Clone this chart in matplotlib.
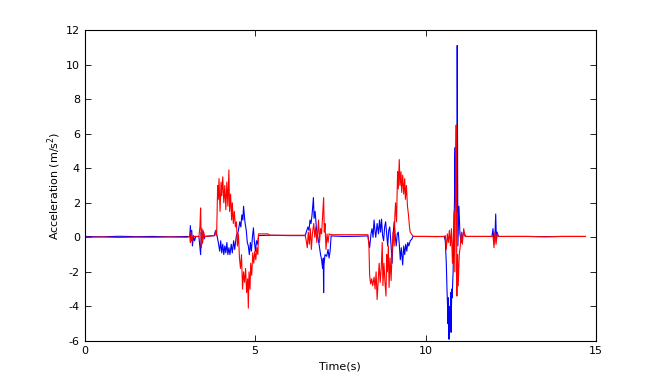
import numpy as np
import matplotlib.pyplot as plt

plt.rcParams["axes.unicode_minus"] = False
plt.rcParams["font.family"] = ["DejaVu Sans"]

# 蓝色曲线 (时间, 加速度)
t_blue = [0, 0.5, 1.0, 1.5, 2.0, 2.5, 3.0, 3.08, 3.10, 3.12, 3.14, 3.16, 3.19, 3.22, 3.26,
          3.35, 3.40, 3.42, 3.44, 3.47, 3.50, 3.53, 3.80, 3.84, 3.88, 3.92, 3.96, 3.99, 4.02,
          4.05, 4.08, 4.11, 4.14, 4.17, 4.20, 4.23, 4.26, 4.30, 4.33, 4.37, 4.40, 4.45, 4.50,
          4.55, 4.58, 4.61, 4.64, 4.66, 4.70, 4.74, 4.77, 4.80, 4.83, 4.86, 4.89, 4.92, 4.95,
          4.98, 5.01, 5.04, 5.07, 5.10, 5.40, 6.0, 6.47, 6.50, 6.55, 6.58, 6.61, 6.64, 6.67,
          6.71, 6.73, 6.76, 6.80, 6.83, 6.86, 6.89, 6.92, 6.95, 6.98, 7.00, 7.01, 7.02, 7.05,
          7.10, 7.14, 7.17, 7.20, 7.23, 7.6, 8.0, 8.31, 8.36, 8.40, 8.43, 8.46, 8.49, 8.52,
          8.54, 8.58, 8.62, 8.65, 8.68, 8.71, 8.74, 8.77, 8.80, 8.83, 8.86, 8.89, 8.92, 8.95,
          8.98, 9.02, 9.05, 9.08, 9.11, 9.14, 9.17, 9.20, 9.23, 9.26, 9.29, 9.33, 9.36, 9.39,
          9.42, 9.45, 9.48, 9.51, 9.55, 9.60, 9.63, 10.0, 10.3, 10.55, 10.58, 10.61, 10.63,
          10.65, 10.66, 10.67, 10.69, 10.70, 10.72, 10.74, 10.75, 10.77, 10.78, 10.81, 10.83,
          10.85, 10.86, 10.87, 10.88, 10.89, 10.90, 10.91, 10.92, 10.93, 10.95, 10.98, 11.01,
          11.05, 11.11, 11.18, 11.5, 11.95, 11.98, 12.01, 12.04, 12.06, 12.08, 12.10, 12.14,
          13.0, 13.5, 14.0, 14.69]
a_blue = [0.05, 0.03, 0.06, 0.04, 0.05, 0.03, 0.05, 0.04, 0.67, -0.2, 0.4, -0.5, 0.1, -0.2, 0.05,
          0.05, -1.0, 0.3, -0.4, 0.4, -0.1, 0.05, 0.1, 0.4, 0.1, -0.3, -0.8, -0.2, -0.9,
          -0.4, -1.0, -0.5, -0.9, -0.3, -1.0, -0.6, -1.0, -0.4, -0.9, -0.2, -0.7, 0.1, 0.3,
          0.9, 0.6, 1.3, 1.0, 1.8, 0.9, 0.4, -0.3, -0.5, -1.0, -0.3, -0.8, 0.0, 0.55,
          -0.3, -0.8, -0.2, -0.4, 0.1, 0.12, 0.1, 0.1, 0.3, 0.6, 0.4, 1.0, 0.8, 1.3,
          2.3, 1.1, 1.5, 0.5, 0.1, -0.2, -0.6, -1.0, -1.3, -1.8, -1.2, -3.2, -1.6, -1.0,
          -1.1, -0.7, -1.2, -0.8, 0.08, 0.05, 0.06, 0.08, -0.6, 0.2, 0.5, 0.0, 1.0, 0.3,
          0.0, 0.8, 0.2, 1.0, 0.3, 1.05, 0.1, -0.2, 0.6, 0.9, 0.2, -0.5, 0.4, 0.6,
          -0.2, -1.5, 0.2, 0.9, 0.1, -0.5, 0.2, 0.3, -0.4, -1.3, -0.6, -1.6, -0.5, -1.0,
          -0.4, -0.8, -0.3, -0.5, -0.2, -0.1, 0.05, 0.05, 0.04, 0.05, -0.2, -1.5, -3.0,
          -4.2, -5.0, -3.5, -5.9, -4.0, -5.3, -3.2, -5.5, -3.0, -3.5, -2.0, 0.5,
          2.0, 4.5, 5.2, 2.5, 5.0, 3.0, 4.0, 1.5, 11.1, -0.5, 1.8, 0.2,
          -0.3, 0.3, 0.05, 0.05, 0.05, 0.5, -0.3, 0.2, 1.35, -0.2, 0.3, 0.05,
          0.05, 0.04, 0.05, 0.05]

# 红色曲线 (时间, 加速度)
t_red = [0, 0.5, 1.0, 1.5, 2.0, 2.5, 3.0, 3.08, 3.10, 3.12, 3.15, 3.18, 3.35, 3.38, 3.40,
         3.42, 3.44, 3.46, 3.49, 3.52, 3.82, 3.84, 3.87, 3.90, 3.92, 3.94, 3.97, 4.00, 4.02,
         4.05, 4.08, 4.11, 4.14, 4.17, 4.20, 4.23, 4.25, 4.28, 4.31, 4.33, 4.36, 4.39, 4.42,
         4.45, 4.48, 4.51, 4.54, 4.57, 4.60, 4.63, 4.66, 4.69, 4.72, 4.75, 4.78, 4.80, 4.82,
         4.85, 4.87, 4.90, 4.93, 4.96, 4.99, 5.02, 5.05, 5.08, 5.10, 5.38, 5.42, 6.0, 6.47,
         6.50, 6.53, 6.56, 6.59, 6.62, 6.65, 6.68, 6.72, 6.75, 6.78, 6.81, 6.84, 6.86, 6.89,
         6.92, 6.95, 6.98, 7.01, 7.03, 7.05, 7.08, 7.11, 7.14, 7.17, 7.22, 8.0, 8.31, 8.34,
         8.36, 8.39, 8.42, 8.45, 8.49, 8.52, 8.55, 8.58, 8.61, 8.64, 8.67, 8.70, 8.73, 8.75,
         8.78, 8.81, 8.84, 8.86, 8.88, 8.91, 8.93, 8.96, 8.99, 9.02, 9.05, 9.08, 9.10, 9.12,
         9.15, 9.18, 9.20, 9.23, 9.25, 9.28, 9.30, 9.33, 9.36, 9.39, 9.41, 9.44, 9.47, 9.50,
         9.53, 9.55, 9.60, 9.65, 10.0, 10.55, 10.58, 10.61, 10.64, 10.67, 10.70, 10.73, 10.76,
         10.79, 10.82, 10.84, 10.86, 10.88, 10.90, 10.91, 10.92, 10.94, 10.96, 10.99, 11.02,
         11.05, 11.08, 11.12, 11.16, 11.5, 11.95, 11.98, 12.01, 12.04, 12.07, 12.10, 12.14,
         13.0, 13.5, 14.0, 14.69]
a_red = [0.0, 0.02, -0.01, 0.01, 0.0, 0.02, 0.0, 0.05, -0.3, 0.3, -0.2, 0.05, 0.05, 0.6, 1.7,
         -0.6, 0.5, -0.3, 0.3, 0.05, 0.1, 0.4, 0.1, 3.0, 2.2, 3.4, 1.5, 3.2, 2.4,
         3.5, 2.0, 3.0, 1.6, 3.2, 1.8, 3.9, 1.5, 2.5, 1.0, 2.0, 0.8, 1.5, 0.6,
         0.9, -0.5, 0.2, -1.2, -1.8, -1.0, -3.0, -2.0, -2.6, -1.8, -3.2, -2.4, -4.1, -2.0,
         -3.0, -1.5, -2.2, -0.9, -1.5, -0.8, -1.3, -0.6, -1.0, 0.2, 0.2, 0.12, 0.12, 0.12,
         -0.2, -0.6, 0.3, -0.4, 0.5, -0.7, 0.2, 0.8, 0.0, 0.6, -0.3, 0.4, 1.0, -0.3,
         0.5, 0.2, 1.2, 2.3, 0.3, 0.8, -0.7, 0.2, -0.3, 0.2, 0.15, 0.15, 0.15, -0.5,
         -2.2, -2.7, -2.4, -2.8, -2.3, -3.0, -2.0, -3.6, -2.5, -1.5, -2.6, -1.8, -0.3, -2.8,
         -1.5, -2.6, -3.4, -1.0, -2.0, -0.5, -2.9, -1.2, -2.5, -0.8, 0.3, -0.5, 1.2, 2.0,
         0.9, 3.8, 2.8, 4.5, 3.0, 3.8, 2.6, 3.6, 2.5, 3.4, 2.2, 3.0, 1.8, 1.3,
         0.6, 0.3, 0.15, 0.05, 0.05, 0.05, 0.1, -0.7, 0.2, -0.3, 0.4, -0.5, 0.5,
         -1.5, 0.2, 1.5, -2.0, 3.0, 6.5, 2.0, -3.4, -1.0, -2.8, -1.0, -0.5,
         0.3, -0.4, 0.5, 0.05, 0.05, 0.05, 0.1, -0.6, 0.3, -0.4, 0.2, 0.05,
         0.05, 0.03, 0.05, 0.05]

fig = plt.figure(figsize=(6.57, 3.83), dpi=100)
ax = fig.add_axes([0.129, 0.1097, 0.778, 0.812])

ax.plot(t_blue, a_blue, color=(0, 0, 1), linewidth=0.8)
ax.plot(t_red, a_red, color=(1, 0, 0), linewidth=0.8)

ax.set_xlim(0, 15)
ax.set_ylim(-6, 12)
ax.set_xticks([0, 5, 10, 15])
ax.set_yticks(np.arange(-6, 13, 2))
ax.tick_params(direction="in", length=4, top=True, right=True, labelsize=8, width=0.6)
for s in ax.spines.values():
    s.set_linewidth(0.8)

ax.set_xlabel("Time(s)", fontsize=8, labelpad=4)
ax.set_ylabel("Acceleration (m/s$^2$)", fontsize=8, labelpad=2)

fig.savefig("out.png", dpi=100)
